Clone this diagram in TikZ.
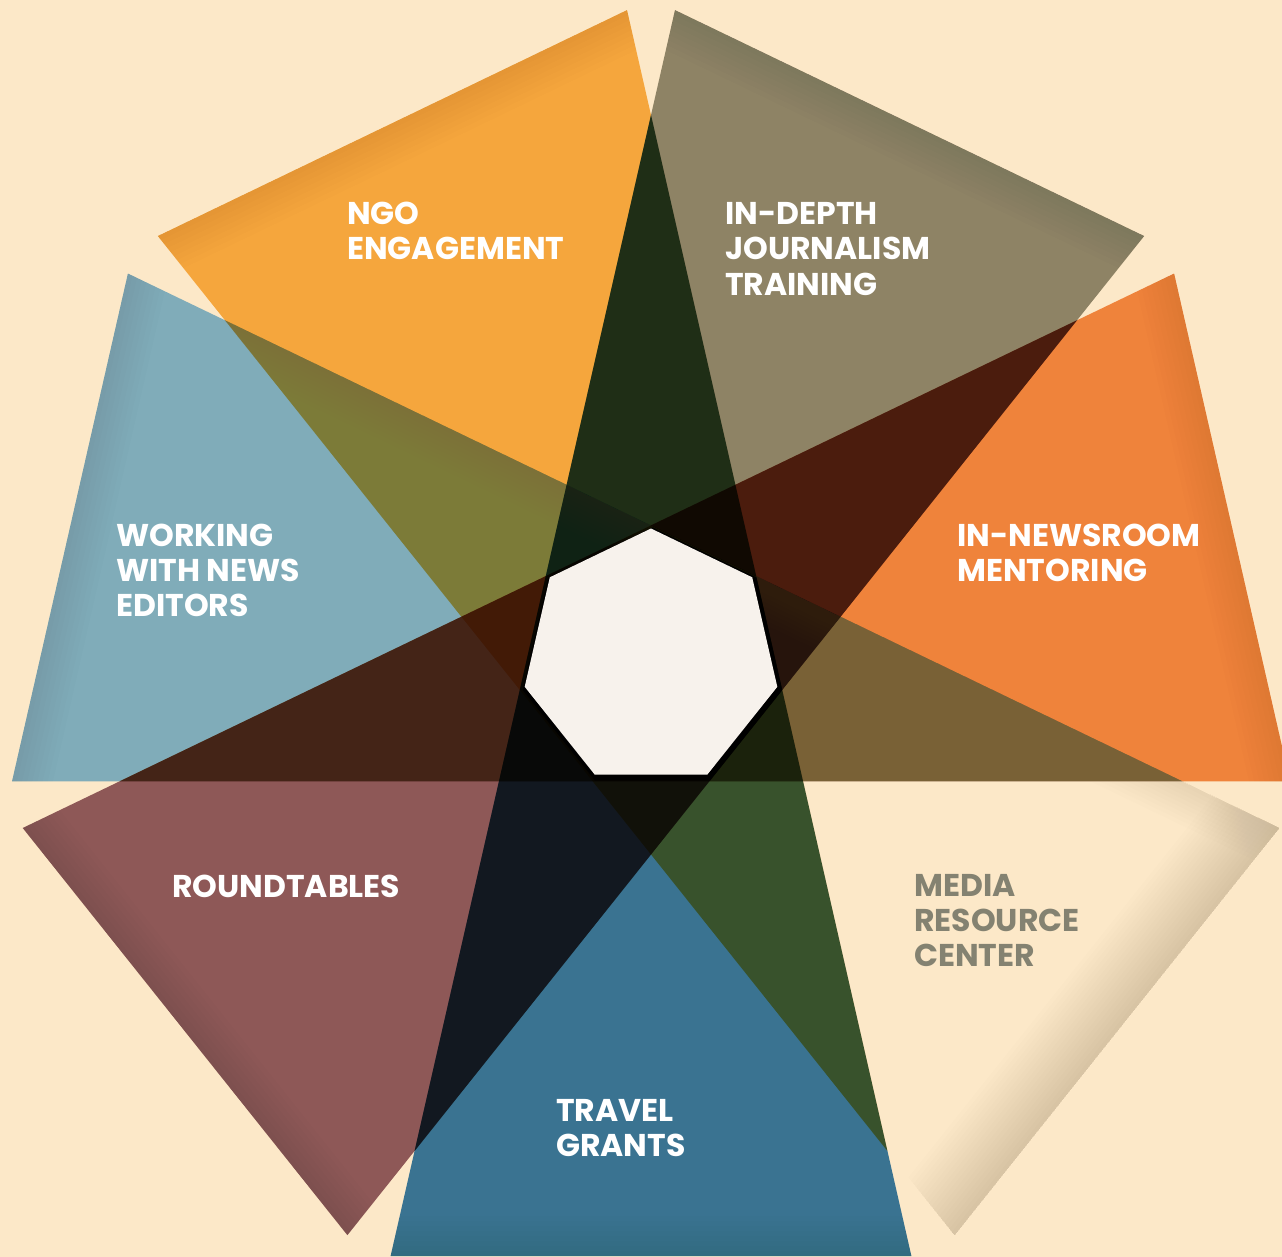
\documentclass[tikz,border=0pt]{standalone}
\usepackage{fontspec}
\newfontfamily\labfont{Poppins}
\definecolor{bgc}{RGB}{252,232,200}
\definecolor{cngo}{RGB}{248,183,78}
\definecolor{cidj}{RGB}{144,145,130}
\definecolor{cinm}{RGB}{242,145,76}
\definecolor{ctg}{RGB}{59,127,186}
\definecolor{crt}{RGB}{144,97,112}
\definecolor{cwne}{RGB}{130,190,236}
\definecolor{mrctext}{RGB}{132,130,113}
\definecolor{heptc}{RGB}{247,242,236}
\definecolor{shadetan}{RGB}{130,112,85}
\tikzset{
  tri/.style={blend mode=multiply},
  lab/.style={anchor=base west, inner sep=0pt, text=white,
    font=\labfont\bfseries\fontsize{31.5}{35}\selectfont},
  labgray/.style={lab, text=mrctext},
}
\begin{document}
\begin{tikzpicture}[x=1pt,y=-1pt]
\useasboundingbox (0,0) rectangle (1282,1257);
\clip (0,0) rectangle (1282,1257);
\fill[bgc] (-5,-5) rectangle (1287,1262);

% triangle corners: base vertices b1,b2 and apex a
\foreach \k/\ang in {ngo/-25.714, idj/25.714, inm/77.143, mrc/128.571, tg/180, rt/231.429, wne/282.857}{
  \coordinate (\k-b1) at ({651+596*sin(\ang)+260.4*cos(\ang)},{660-596*cos(\ang)+260.4*sin(\ang)});
  \coordinate (\k-b2) at ({651+596*sin(\ang)-260.4*cos(\ang)},{660-596*cos(\ang)-260.4*sin(\ang)});
  \coordinate (\k-a) at ({651-545*sin(\ang)},{660+545*cos(\ang)});
}

% coloured triangles, multiplied
\foreach \k/\c in {ngo/cngo, idj/cidj, inm/cinm, tg/ctg, rt/crt, wne/cwne}
  \fill[tri, fill=\c] (\k-b1) -- (\k-b2) -- (\k-a) -- cycle;

% very soft darkening along each base
\foreach \k/\ang in {ngo/-25.714, idj/25.714, inm/77.143, tg/180, rt/231.429, wne/282.857}{
  \begin{scope}
    \clip (\k-b1) -- (\k-b2) -- (\k-a) -- cycle;
    \foreach \dep in {5,10,...,40}{
      \fill[black, fill opacity=0.006]
        ({651+620*sin(\ang)+400*cos(\ang)},{660-620*cos(\ang)+400*sin(\ang)}) --
        ({651+620*sin(\ang)-400*cos(\ang)},{660-620*cos(\ang)-400*sin(\ang)}) --
        ({651+(596-\dep)*sin(\ang)-400*cos(\ang)},{660-(596-\dep)*cos(\ang)-400*sin(\ang)}) --
        ({651+(596-\dep)*sin(\ang)+400*cos(\ang)},{660-(596-\dep)*cos(\ang)+400*sin(\ang)}) -- cycle;
    }
  \end{scope}
}

% media resource center: pale triangle with inner shadow
\begin{scope}
  \clip (mrc-b1) -- (mrc-b2) -- (mrc-a) -- cycle;
  \foreach \dep in {4,8,...,72}{
    \fill[shadetan, fill opacity=0.016]
      ({651+620*sin(128.571)+400*cos(128.571)},{660-620*cos(128.571)+400*sin(128.571)}) --
      ({651+620*sin(128.571)-400*cos(128.571)},{660-620*cos(128.571)-400*sin(128.571)}) --
      ({651+(596-\dep)*sin(128.571)-400*cos(128.571)},{660-(596-\dep)*cos(128.571)-400*sin(128.571)}) --
      ({651+(596-\dep)*sin(128.571)+400*cos(128.571)},{660-(596-\dep)*cos(128.571)+400*sin(128.571)}) -- cycle;
  }
  \foreach \dep in {4,8,...,40}{
    \fill[shadetan, fill opacity=0.012]
      ({651+140*sin(25.714)+900*cos(25.714)},{660-140*cos(25.714)+900*sin(25.714)}) --
      ({651+140*sin(25.714)-900*cos(25.714)},{660-140*cos(25.714)-900*sin(25.714)}) --
      ({651+(121.3-\dep)*sin(25.714)-900*cos(25.714)},{660-(121.3-\dep)*cos(25.714)-900*sin(25.714)}) --
      ({651+(121.3-\dep)*sin(25.714)+900*cos(25.714)},{660-(121.3-\dep)*cos(25.714)+900*sin(25.714)}) -- cycle;
  }
\end{scope}

% central heptagon with a dark rim
\fill[black] (652.5,527.5) -- (756.5,577.6) -- (782.2,690.1) -- (710.2,780.3)
  -- (594.8,780.3) -- (522.8,690.1) -- (548.5,577.6) -- cycle;
\fill[heptc] (651,528.5) -- (752.2,577.3) -- (777.3,686.8) -- (707.2,774.7)
  -- (594.8,774.7) -- (524.7,686.8) -- (549.8,577.3) -- cycle;

% labels
\node[lab] (ngo1) at (347,225) {NGO};
\node[lab] (ngo2) at (347,260) {ENGAGEMENT};
\node[lab] (idj1) at (725,225) {IN-DEPTH};
\node[lab] (idj2) at (725,260) {JOURNALISM};
\node[lab] (idj3) at (725,295) {TRAINING};
\node[lab] (inm1) at (957,546) {IN-NEWSROOM};
\node[lab] (inm2) at (957,581) {MENTORING};
\node[lab] (wne1) at (116,546) {WORKING};
\node[lab] (wne2) at (116,581) {WITH NEWS};
\node[lab] (wne3) at (116,616) {EDITORS};
\node[lab] (rt1) at (172,897) {ROUNDTABLES};
\node[labgray] (mrc1) at (914,896) {MEDIA};
\node[labgray] (mrc2) at (914,931) {RESOURCE};
\node[labgray] (mrc3) at (914,966) {CENTER};
\node[lab] (tg1) at (556,1121) {TRAVEL};
\node[lab] (tg2) at (556,1156) {GRANTS};
\end{tikzpicture}
\end{document}
